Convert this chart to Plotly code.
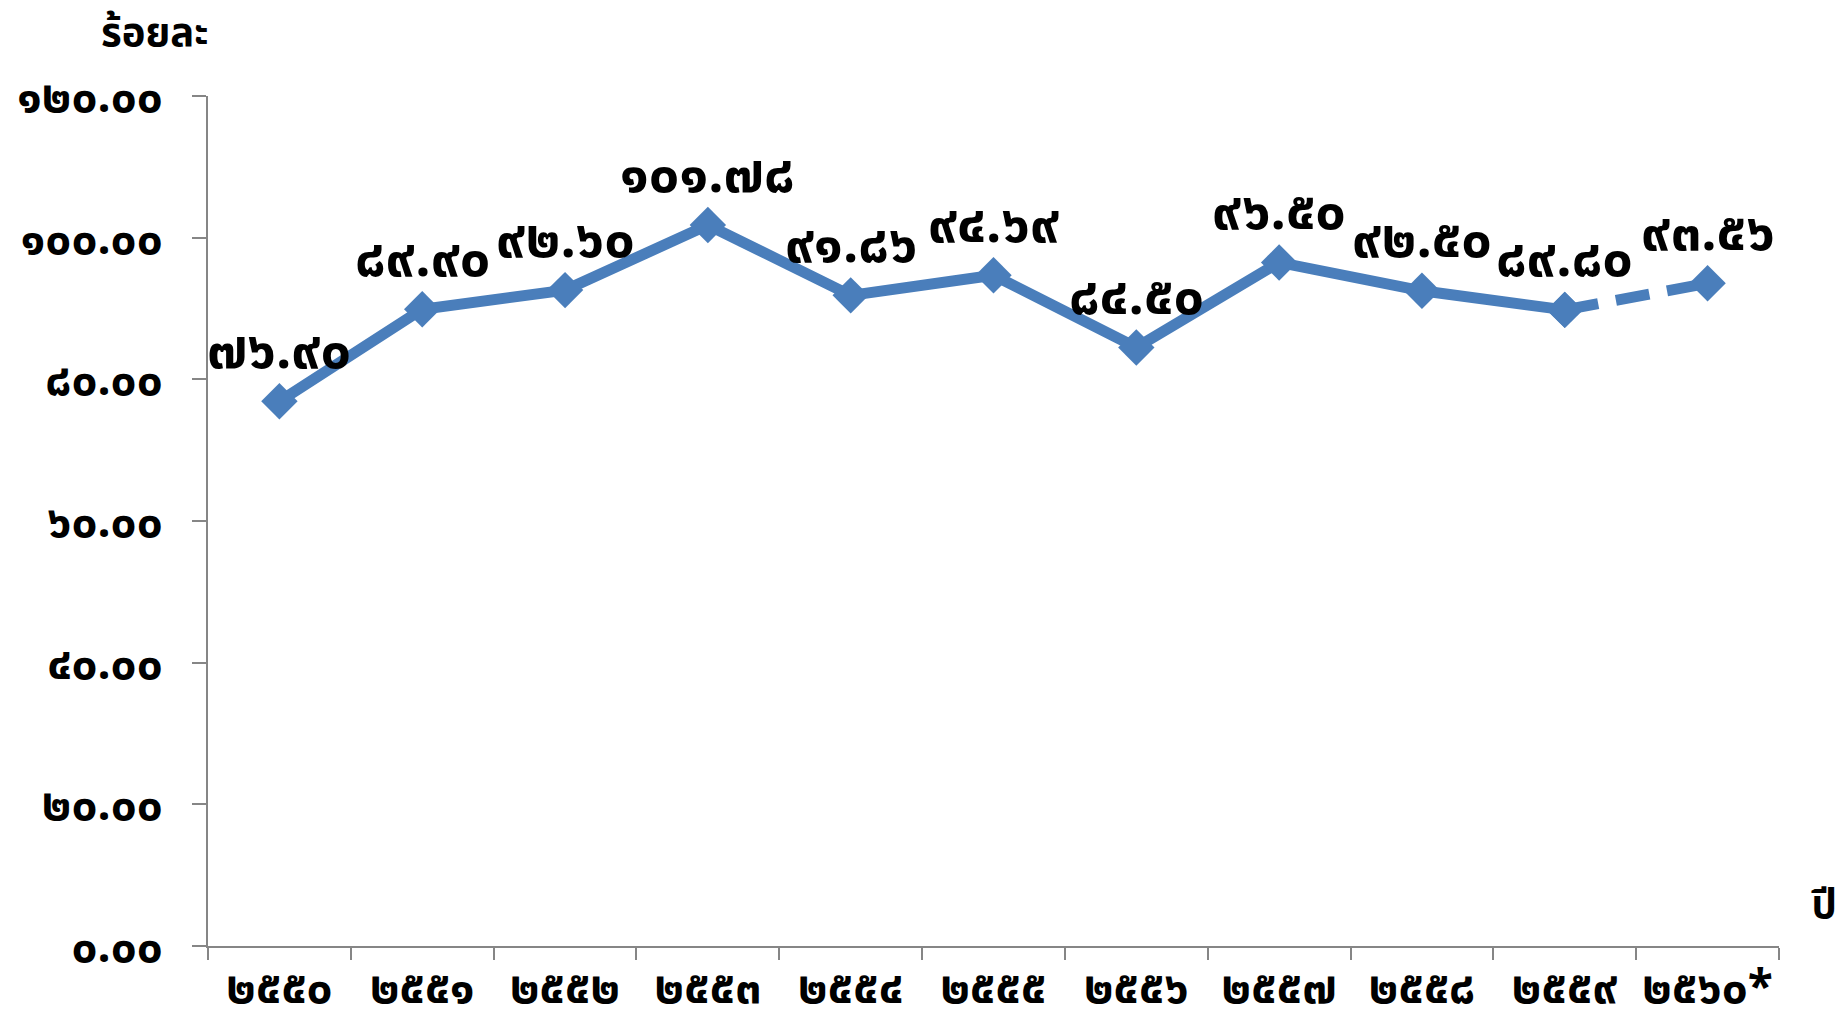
import plotly.graph_objects as go

# Fiscal years (Buddhist Era) and percentage values
years = ["2550", "2551", "2552", "2553", "2554", "2555", "2556", "2557", "2558", "2559", "2560*"]
values = [76.90, 89.90, 92.60, 101.78, 91.86, 94.69, 84.50, 96.50, 92.50, 89.80, 93.56]
y_ticks = [0, 20, 40, 60, 80, 100, 120]

THAI_DIGITS = str.maketrans("0123456789", "๐๑๒๓๔๕๖๗๘๙")


def thai(s):
    return s.translate(THAI_DIGITS)


x_labels = [thai(y) for y in years]
FONT = "Noto Sans Thai, Loma, Garuda, Tahoma, DejaVu Sans, sans-serif"
BLUE = "#4A7EBB"
TICK_SIZE = 46
LABEL_SIZE = 54

fig = go.Figure()

# Solid segment for actual years
fig.add_trace(go.Scatter(
    x=x_labels[:-1], y=values[:-1], mode="lines+markers",
    line=dict(color=BLUE, width=11),
    marker=dict(symbol="diamond", size=28, color=BLUE),
    hoverinfo="skip",
))
# Dashed segment for the estimated final year
fig.add_trace(go.Scatter(
    x=x_labels[-2:], y=values[-2:], mode="lines+markers",
    line=dict(color=BLUE, width=11, dash="34px,18px"),
    marker=dict(symbol="diamond", size=28, color=BLUE),
    hoverinfo="skip",
))

# Value labels above each point
labels = [
    dict(x=x, y=v, text=thai(f"{v:.2f}"), xref="x", yref="y", showarrow=False,
         yshift=50, xanchor="center", yanchor="middle",
         font=dict(family=FONT, size=LABEL_SIZE, color="black", weight="bold"))
    for x, v in zip(x_labels, values)
]

fig.update_layout(
    width=1841, height=1012,
    paper_bgcolor="white", plot_bgcolor="white",
    showlegend=False,
    margin=dict(l=208, r=62, t=96, b=66),
    font=dict(family=FONT, size=TICK_SIZE, color="black"),
    xaxis=dict(
        type="category", categoryorder="array", categoryarray=x_labels,
        range=[-0.5, len(x_labels) - 0.5], automargin=False,
        showline=True, linecolor="#868686", linewidth=2,
        ticks="outside", tickson="boundaries", ticklen=12, tickcolor="#868686", tickwidth=2,
        showgrid=False, zeroline=False,
        tickfont=dict(family=FONT, size=TICK_SIZE, color="black", weight="bold"),
        ticklabelstandoff=0,
    ),
    yaxis=dict(
        range=[0, 120], tickvals=y_ticks, automargin=False,
        ticktext=[thai(f"{v:.2f}") for v in y_ticks],
        showline=True, linecolor="#868686", linewidth=2,
        ticks="outside", ticklen=14, tickcolor="#868686", tickwidth=2,
        showgrid=False, zeroline=False,
        tickfont=dict(family=FONT, size=TICK_SIZE, color="black", weight="bold"),
        ticklabelstandoff=20,
    ),
    annotations=labels + [
        dict(text="ร้อยละ", xref="paper", yref="paper", x=-0.034, y=1.0,
             yshift=94, xanchor="center", yanchor="top", showarrow=False,
             font=dict(family=FONT, size=40, color="black", weight="bold")),
        dict(text="ปี", xref="paper", yref="paper", x=1.0, y=0.0,
             xshift=45, yshift=40, xanchor="center", yanchor="middle", showarrow=False,
             font=dict(family=FONT, size=40, color="black", weight="bold")),
    ],
)

fig.write_html("out.html")
